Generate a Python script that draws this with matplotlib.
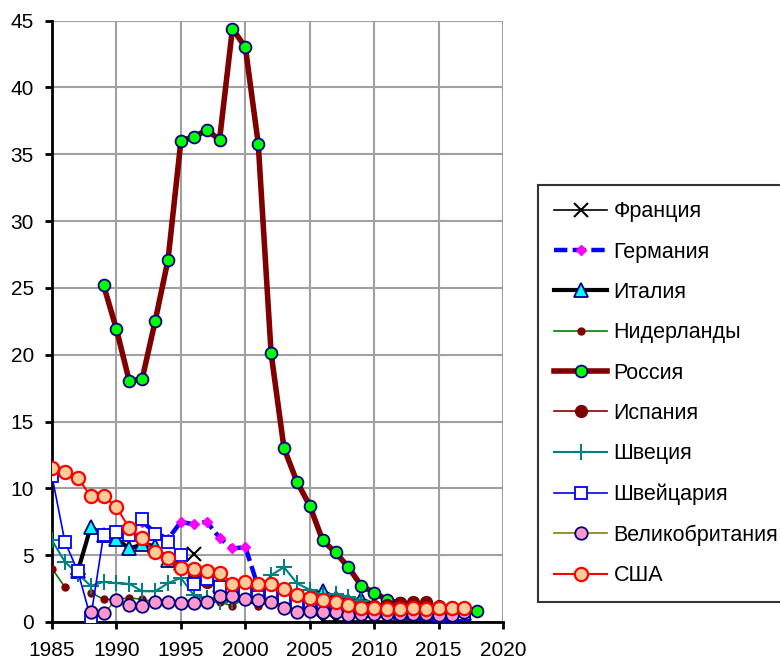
import numpy as np
import matplotlib
matplotlib.use("Agg")
import matplotlib.pyplot as plt

nan = np.nan
years = list(range(1985, 2019))

france = [nan]*11 + [5.1] + [nan]*9 + [0.1]*12 + [nan]
germany = [nan]*7 + [7.5, 6.7, 6.2, 7.5, 7.3, 7.5, 6.3, 5.5, 5.6,
                     2.6, 2.3, 1.5, 1.3, 1.0, 1.0, 1.0, 0.9, 0.8, 0.8, 0.7, 0.7, 0.7, 0.7, 0.7, 0.7, 0.7, nan]
italy = [nan, nan, 3.8, 7.1, 6.5, 6.2, 5.5, 5.8, 5.7, 4.6, 4.4, 3.6, 3.3, 2.8, 2.5, 2.4,
         2.3, 2.4, 2.2, 2.0, 2.0, 2.3, 1.8, 1.6, 1.7, 1.3, 1.2, 1.0, 0.9, 0.8, 0.5, 0.5, 0.7, nan]
netherlands = [4.0, 2.6, nan, 2.2, 1.7, 1.7, 1.8, 1.7, 1.5, 1.6, 1.5, 1.3, 1.5, 1.5, 1.2, 1.8,
               1.2, 1.5, 1.3, 1.2, 1.1, 1.0, 1.0, 1.0, 1.0] + [nan]*9
russia = [nan]*4 + [25.2, 21.9, 18.0, 18.2, 22.5, 27.1, 36.0, 36.3, 36.8, 36.1, 44.4, 43.0,
                    35.8, 20.1, 13.0, 10.5, 8.7, 6.1, 5.2, 4.1, 2.7, 2.2, 1.65, 1.4, 1.3, 1.2,
                    1.1, 1.0, 0.95, 0.8]
spain = [nan]*11 + [3.5, 3.0, 2.8, 2.5, 2.3, 2.0, 2.2, 2.0, 1.8, 1.7, 1.6, 1.5, 1.4, 1.3, 1.2,
                    1.3, 1.4, 1.5, 1.5, 1.2, 1.1, 1.0, nan]
sweden = [6.1, 4.5, 3.6, 2.7, 3.0, 2.9, 2.85, 2.3, 2.3, 2.9, 3.3, 2.0, 1.8, 1.5, 1.6, 2.3,
          2.3, 3.5, 4.1, 2.9, 2.4, 2.0, 2.1, 1.9, 1.6] + [nan]*9
switzerland = [10.9, 6.0, 3.8, 0.3, 6.5, 6.7, 6.5, 7.7, 6.6, 6.0, 5.0, 2.85, 3.2, 2.6, 2.4, 2.2,
               1.9, 2.0, 1.8, 1.4, 1.1, 1.2, 1.1, 1.0, 0.9, 0.8, 0.8, 0.7, 0.7, 0.6, 0.5, 0.5, 0.6, nan]
uk = [nan]*3 + [0.75, 0.65, 1.65, 1.3, 1.2, 1.5, 1.5, 1.4, 1.4, 1.5, 1.95, 1.95, 1.75,
                1.65, 1.5, 1.05, 0.75, 0.8, 0.75, 0.75, 0.5, 0.6, 0.6, 0.6, 0.6, 0.6, 0.6, 0.5, 0.5, 0.75, nan]
usa = [11.55, 11.2, 10.8, 9.4, 9.4, 8.6, 7.0, 6.25, 5.25, 4.75, 4.05, 3.95, 3.85, 3.7, 2.85, 3.0,
       2.85, 2.85, 2.5, 2.05, 1.8, 1.65, 1.5, 1.3, 1.05, 1.05, 0.95, 0.95, 1.05, 0.95, 1.05, 1.05, 1.05, nan]

plt.rcParams['font.family'] = ['Liberation Sans', 'DejaVu Sans']
fig = plt.figure(figsize=(7.8, 6.64), dpi=100)
ax = fig.add_axes([0.0667, 0.0633, 0.645 - 0.0667, 0.969 - 0.0633])

navy = '#000080'
ax.plot(years, france, color='black', lw=1.2, marker='x', ms=10, mew=1.5, mec='black', label='Франция', zorder=3)
ax.plot(years, germany, color='#0000FF', lw=3.2, ls=(0, (3, 1.2)), marker='D', ms=5.5, mfc='#FF00FF', mec='#FF00FF',
        label='Германия', zorder=3)
ax.plot(years, italy, color='black', lw=3, marker='^', ms=10, mfc='#00FFFF', mec=navy, mew=1.3, label='Италия', zorder=3)
ax.plot(years, netherlands, color='#008000', lw=1.2, marker='o', ms=5, mfc='#800000', mec='#800000',
        label='Нидерланды', zorder=3)
ax.plot(years, russia, color='#800000', lw=4, marker='o', ms=8.5, mfc='#00FF00', mec=navy, mew=1.3,
        label='Россия', zorder=3)
ax.plot(years, spain, color='#800000', lw=1.2, marker='o', ms=8.5, mfc='#800000', mec='#800000',
        label='Испания', zorder=3)
ax.plot(years, sweden, color='#008080', lw=1.5, marker='+', ms=12, mew=1.5, mec='#008080', label='Швеция', zorder=3)
ax.plot(years, switzerland, color='#0000FF', lw=1.2, marker='s', ms=8.5, mfc='white', mec='#0000FF', mew=1.3,
        label='Швейцария', zorder=3)
ax.plot(years, uk, color='#808000', lw=1.2, marker='o', ms=9, mfc='#FF99CC', mec=navy, mew=1.3,
        label='Великобритания', zorder=3)
ax.plot(years, usa, color='#FF0000', lw=1.5, marker='o', ms=9.5, mfc='#FFCC99', mec='#FF0000', mew=1.6,
        label='США', zorder=3)

ax.set_xlim(1985, 2020)
ax.set_ylim(0, 45)
ax.set_xticks(range(1985, 2021, 5))
ax.set_yticks(range(0, 46, 5))
ax.grid(True, color='#a0a0a0', lw=1.5)
ax.set_axisbelow(True)
for s in ['top', 'right']:
    ax.spines[s].set_visible(False)
for s in ['left', 'bottom']:
    ax.spines[s].set_linewidth(2)
    ax.spines[s].set_color('black')
    ax.spines[s].set_zorder(2.5)
ax.tick_params(axis='both', labelsize=15, width=2, length=5, color='black')
ax.tick_params(axis='x', pad=9)
ax.tick_params(axis='y', pad=8)

leg = fig.legend(loc='upper left', bbox_to_anchor=(0.69, 0.7214), fontsize=15.5, frameon=True,
                 fancybox=False, edgecolor='black', handlelength=2.45, handletextpad=0.3,
                 labelspacing=0.9, borderpad=0.75, borderaxespad=0)
leg.get_frame().set_linewidth(1.5)
fig.savefig('out.png', dpi=100)
